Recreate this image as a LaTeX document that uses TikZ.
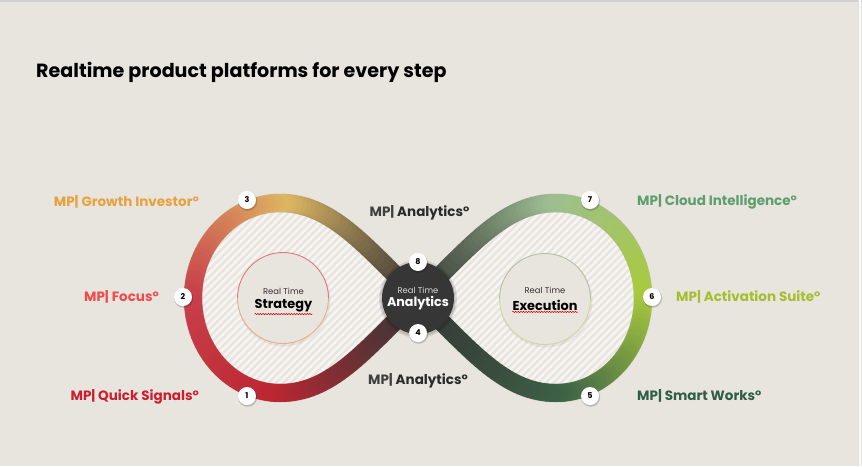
\documentclass[tikz,border=0pt]{standalone}
\usepackage{fontspec}
\setmainfont{Poppins}
\usetikzlibrary{decorations.pathmorphing}
\definecolor{bg}{HTML}{E8E5DF}
\definecolor{dk}{HTML}{383737}
\definecolor{gold}{HTML}{DDB663}
\definecolor{lred}{HTML}{C9414B}
\definecolor{bred}{HTML}{BC2631}
\definecolor{dkg}{HTML}{363936}
\definecolor{sage}{HTML}{9DBE93}
\definecolor{lime}{HTML}{A9CA3E}
\definecolor{dgreen}{HTML}{3D6246}
\definecolor{cgrowth}{HTML}{E6A23C}
\definecolor{cfocus}{HTML}{EF4B4B}
\definecolor{cquick}{HTML}{CC1F2D}
\definecolor{ccloud}{HTML}{5E9E6C}
\definecolor{cactiv}{HTML}{A6BE2E}
\definecolor{csmart}{HTML}{2F5E46}
\definecolor{canl}{HTML}{2A2A2A}
\definecolor{anfill}{HTML}{363636}
\definecolor{strtop}{HTML}{E8AE8A}
\definecolor{strbot}{HTML}{E27580}
\definecolor{exetop}{HTML}{CDD8A2}
\definecolor{exebot}{HTML}{B5BFA5}
\definecolor{stripe}{HTML}{F6F5F2}
\newcommand\gradseg[6]{%
  \foreach \i in {1,...,32}{%
    \pgfmathsetmacro\ta{(\i-1)/32}%
    \pgfmathsetmacro\tb{\i/32}%
    \pgfmathtruncatemacro\pc{100*(\i-0.5)/32}%
    \path (#1) .. controls (#2) and (#3) .. (#4)
       coordinate[pos=\ta] (ga) coordinate[pos=\tb] (gb);
    \draw[band, draw=#6!\pc!#5] (ga) -- (gb);
  }%
}
\begin{document}
\begin{tikzpicture}[x=1pt,y=-1pt,
  band/.style={line width=18pt, line cap=round},
  badge/.style={circle, fill=white, draw=none, minimum size=18pt, inner sep=0pt,
     font=\bfseries\fontsize{8}{8}\selectfont, text=black},
  lbl/.style={font=\bfseries\fontsize{13.5}{16}\selectfont, inner sep=0pt},
  small/.style={font=\fontsize{8.4}{10}\selectfont, text=#1, inner sep=0pt},
  big/.style={font=\bfseries\fontsize{12.9}{15}\selectfont, text=#1, inner sep=0pt},
  squig/.style={draw=red!85!black, line width=0.5pt, decorate,
     decoration={snake, amplitude=0.7pt, segment length=2.6pt}}
  ]
\useasboundingbox (0,0) rectangle (862,466);
\fill[bg] (0,0) rectangle (862,466);
\draw[black!18, line width=1.5pt] (0,0.8) -- (862,0.8);
\draw[white!80!bg, line width=2pt] (860,0) -- (860,466);
\draw[black!12, line width=0.6pt] (858.5,0) -- (858.5,466);

% key points of the figure-eight centre line
\coordinate (C) at (418,298);
\coordinate (T) at (280,203);
\coordinate (L) at (193,298);
\coordinate (B) at (280,393);
\coordinate (c1) at (363,243); \coordinate (c2) at (330,203);
\coordinate (c3) at (232,203); \coordinate (c4) at (193,245.5);
\coordinate (c5) at (193,350.5); \coordinate (c6) at (232,393);
\coordinate (c7) at (330,393); \coordinate (c8) at (363,353);
\coordinate (Tr) at (556,203);
\coordinate (R) at (643,298);
\coordinate (Br) at (556,393);
\coordinate (d1) at (473,243); \coordinate (d2) at (506,203);
\coordinate (d3) at (604,203); \coordinate (d4) at (643,245.5);
\coordinate (d5) at (643,350.5); \coordinate (d6) at (604,393);
\coordinate (d7) at (506,393); \coordinate (d8) at (473,353);

% hatched interiors
\begin{scope}
\clip (C) .. controls (c1) and (c2) .. (T) .. controls (c3) and (c4) .. (L)
      .. controls (c5) and (c6) .. (B) .. controls (c7) and (c8) .. (C) -- cycle
      (C) .. controls (d1) and (d2) .. (Tr) .. controls (d3) and (d4) .. (R)
      .. controls (d5) and (d6) .. (Br) .. controls (d7) and (d8) .. (C) -- cycle;
\foreach \k in {-320,-312.5,...,700}
  \draw[stripe, line width=2.8pt] (\k,480) -- (\k+480,0);
\end{scope}

% inner circles
\fill[black, opacity=0.06] (284,300) circle[radius=46.5pt];
\fill[bg] (283,298) circle[radius=45.5pt];
\draw[draw=strtop, line width=0.9pt] (328.5,298) arc[start angle=0, end angle=-180, radius=45.5pt];
\draw[draw=strbot, line width=0.9pt] (237.5,298) arc[start angle=180, end angle=0, radius=45.5pt];
\fill[black, opacity=0.06] (546,301) circle[radius=46.5pt];
\fill[bg] (545,299) circle[radius=45.5pt];
\draw[draw=exetop, line width=0.9pt] (590.5,299) arc[start angle=0, end angle=-180, radius=45.5pt];
\draw[draw=exebot, line width=0.9pt] (499.5,299) arc[start angle=180, end angle=0, radius=45.5pt];

% band shadow
\begin{scope}[shift={(1.5,2.5)}]
\draw[black, opacity=0.12, line width=19pt]
      (C) .. controls (c1) and (c2) .. (T) .. controls (c3) and (c4) .. (L)
      .. controls (c5) and (c6) .. (B) .. controls (c7) and (c8) .. (C)
      (C) .. controls (d1) and (d2) .. (Tr) .. controls (d3) and (d4) .. (R)
      .. controls (d5) and (d6) .. (Br) .. controls (d7) and (d8) .. (C);
\end{scope}

% gradient bands
\gradseg{C}{c1}{c2}{T}{dk}{gold}
\gradseg{T}{c3}{c4}{L}{gold}{lred}
\gradseg{L}{c5}{c6}{B}{lred}{bred}
\gradseg{B}{c7}{c8}{C}{bred}{dk}
\gradseg{C}{d1}{d2}{Tr}{dkg}{sage}
\gradseg{Tr}{d3}{d4}{R}{sage}{lime}
\gradseg{R}{d5}{d6}{Br}{lime}{dgreen}
\gradseg{Br}{d7}{d8}{C}{dgreen}{dkg}

% analytics hub
\fill[black, opacity=0.10] (418,299) circle[radius=39pt];
\fill[black, opacity=0.10] (418,299) circle[radius=37.5pt];
\fill[anfill] (418,298) circle[radius=36pt];

% centre texts
\node[small=black!80] (rts) at (283.5,291) {Real Time};
\node[big=black] (strat) at (283.5,306) {Strategy};
\draw[squig] ([yshift=-1.5pt]strat.south west) -- ([yshift=-1.5pt]strat.south east);
\node[small=black!80] (rte) at (545,290) {Real Time};
\node[big=black] (exec) at (545,305) {Execution};
\draw[squig] ([yshift=-1.5pt]exec.south west) -- ([yshift=-1.5pt]exec.south east);
\node[small=white!85!black] (rta) at (418,290) {Real Time};
\node[font=\bfseries\fontsize{12.7}{15}\selectfont, text=white, inner sep=0pt] (anl) at (418,303.5) {Analytics};

% badges
\foreach \n/\x/\y in {1/247/396, 2/183/297, 3/247/200, 4/418/333, 5/590/396, 6/652/297, 7/590/200, 8/418/262}{
  \fill[black, opacity=0.18] (\x+0.6,\y+1.2) circle[radius=9.6pt];
  \node[badge] (b\n) at (\x,\y) {\n};
}

% title
\node[anchor=base west, font=\bfseries\fontsize{19.1}{22}\selectfont, text=black, inner sep=0pt] (title) at (36,77) {Realtime product platforms for every step};

% labels
\node[lbl, anchor=east, text=cgrowth] (lgrowth) at (199,201.5) {MP| Growth Investor°};
\node[lbl, anchor=east, text=cfocus] (lfocus) at (159,297) {MP| Focus°};
\node[lbl, anchor=east, text=cquick] (lquick) at (199,397) {MP| Quick Signals°};
\node[lbl, text=canl] (lan1) at (419.5,213) {{\color{black!75}MP|} Analytics°};
\node[lbl, text=canl] (lan2) at (418,380.5) {{\color{black!75}MP|} Analytics°};
\node[lbl, anchor=west, text=ccloud] (lcloud) at (637,202) {MP| Cloud Intelligence°};
\node[lbl, anchor=west, text=cactiv] (lactiv) at (676,297) {MP| Activation Suite°};
\node[lbl, anchor=west, text=csmart] (lsmart) at (637,396) {MP| Smart Works°};
\end{tikzpicture}
\end{document}
